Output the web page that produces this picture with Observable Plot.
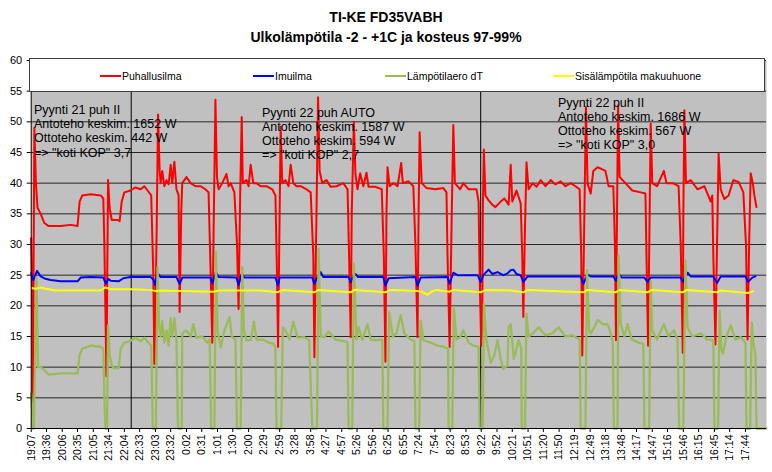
<!DOCTYPE html>
<html><head><meta charset="utf-8">
<script src="https://cdn.jsdelivr.net/npm/d3@7"></script>
<script src="https://cdn.jsdelivr.net/npm/@observablehq/plot@0.6"></script>
<style>
body{margin:0;background:#fff;font-family:"Liberation Sans",Arial,sans-serif;color:#000;}
#wrap{position:relative;width:772px;height:472px;overflow:hidden;}
#title{height:47px;box-sizing:border-box;padding-top:7px;text-align:center;font-weight:bold;font-size:14px;line-height:20px;}
#legend{position:absolute;left:29px;top:58px;width:736px;height:34px;background:#fff;border:1px solid #404040;box-sizing:border-box;}
.li{position:absolute;top:10px;font-size:10.5px;line-height:14px;white-space:nowrap;}
.li span{display:inline-block;width:21px;height:2px;vertical-align:middle;margin-right:1px;position:relative;top:-1px;}
.note{position:absolute;font-size:12.5px;line-height:14.2px;white-space:nowrap;}
</style></head>
<body>
<div id="wrap">
  <div id="title">TI-KE FD35VABH<br>Ulkolämpötila -2 - +1C ja kosteus 97-99%</div>
  <div id="chart"></div>
</div>
<script>
// Time is minutes after 19:07 (start of the log)
const tickLabels = ["19:07","19:36","20:06","20:35","21:05","21:34","22:04","22:33","23:03","23:32","0:02","0:31","1:01","1:30","2:00","2:29","2:59","3:28","3:58","4:27","4:57","5:26","5:56","6:25","6:55","7:24","7:54","8:23","8:53","9:22","9:52","10:21","10:51","11:20","11:50","12:19","12:49","13:18","13:48","14:17","14:47","15:16","15:46","16:15","16:45","17:14","17:44"];
const yTicks = [0,5,10,15,20,25,30,35,40,45,50,55,60];
const xEnd = 1397;
const phaseBoundaries = [190, 854];

const seriesNames = ["Puhallusilma","Imuilma","Lämpötilaero dT","Sisälämpötila makuuhuone"];
const seriesColors = ["#ff0000","#0000ff","#9bbb59","#ffff00"];

const notes = [
  ["Pyynti 21 puh II","Antoteho keskim. 1652 W","Ottoteho keskim. 442 W","=> \"koti KOP\" 3,7"],
  ["Pyynti 22 puh AUTO","Antoteho keskim. 1587 W","Ottoteho keskim. 594 W","=> \"koti KOP\" 2,7"],
  ["Pyynti 22 puh II","Antoteho keskim. 1686 W","Ottoteho keskim. 567 W","=> \"koti KOP\" 3,0"]
];

const puhallusilma = [[0,31],[2,20],[3,2],[6,49],[9,40],[12,36],[18,35],[25,33.5],[33,33],[56,33],[75,33.2],[88,33],[92,37],[97,38],[113,38.2],[132,38],[137,37.5],[139,30],[143,8.5],[146,40.5],[149,36],[153,34],[164,34],[168,33.8],[172,37],[177,38.5],[189,38.8],[198,39.3],[208,39],[215,39.5],[223,38.6],[228,38],[232,25],[234,10.5],[238,30],[241,51.2],[244,42],[246,40],[249,42],[253,39.5],[257,40.5],[261,39.8],[265,43],[268,40],[272,43.5],[276,39],[280,38],[282,19],[285,35],[287,40],[295,41],[303,40],[312,39.5],[322,39.5],[331,39],[337,38.5],[341,25],[344,14],[347,35],[350,53.6],[353,41],[356,39],[363,40],[371,41.5],[375,39.5],[379,40],[386,38.5],[391,30],[394,19.5],[397,38],[400,50.8],[402,40],[409,40.5],[413,39.5],[417,43],[422,40],[428,40],[436,39.5],[447,39.5],[458,39],[464,38],[467,25],[469,13.3],[472,35],[474,49.2],[477,40],[483,40.5],[489,39.5],[493,43],[498,40],[504,39.5],[512,39.5],[523,39],[531,38.5],[536,28],[538,11.6],[542,35],[545,54],[548,42],[553,40],[561,40.5],[569,39.4],[580,39.5],[593,40],[601,39],[604,28],[607,14.9],[609,35],[613,50],[616,41.5],[620,39],[625,41.6],[631,39.5],[637,41.7],[641,39.4],[654,39.4],[666,39],[670,28],[673,10.9],[675,35],[677,42.6],[681,39.5],[688,40],[696,39.5],[703,43.3],[706,40],[717,40.3],[726,39.5],[730,30],[734,14.9],[736,35],[738,48.3],[742,40],[751,39.2],[768,39],[783,39.2],[789,38.5],[791,28],[795,13.3],[799,35],[802,49.5],[805,40],[815,39],[821,40],[831,39],[846,39],[850,37],[852,25],[855,13.5],[857,17],[858,35],[860,45.5],[863,38],[869,37.2],[876,36.5],[882,36.1],[892,37],[899,37.5],[907,36.5],[911,43],[914,37],[922,38.8],[930,36.7],[933,28],[935,18.2],[938,32],[941,43.4],[945,39],[953,40],[960,39.4],[968,40.5],[977,39.5],[987,40.5],[996,39.8],[1006,40.3],[1015,39.5],[1025,40],[1034,39.5],[1042,39],[1045,28],[1047,11.9],[1051,35],[1054,52.4],[1057,40],[1063,38.3],[1068,42],[1076,42.6],[1084,42.3],[1091,42],[1097,39.5],[1106,39.5],[1109,30],[1111,14.4],[1113,35],[1115,52.7],[1118,41],[1129,40],[1142,38.8],[1158,38.5],[1167,38.3],[1169,28],[1172,13.5],[1175,35],[1177,49.7],[1180,40],[1189,39.5],[1202,42],[1207,40],[1219,40],[1230,39.5],[1234,30],[1238,12.3],[1239,35],[1241,51.9],[1244,40],[1253,40.5],[1266,39],[1279,39.5],[1291,37],[1294,38],[1296,28],[1300,13.7],[1303,30],[1306,44.8],[1310,39],[1317,37.4],[1325,38],[1334,40.5],[1344,40.2],[1353,38.5],[1358,30],[1361,14.5],[1364,30],[1367,41.6],[1371,40],[1374,38],[1378,36.1]];

const imuilma = [[0,25.3],[4,24.2],[8,25],[11,25.7],[18,24.8],[27,24.4],[37,24.2],[56,24.0],[88,24.0],[94,24.6],[113,24.7],[137,24.6],[142,23.6],[146,24.4],[151,24.1],[166,24.0],[175,24.5],[189,24.7],[227,24.7],[232,24.3],[235,23.4],[240,25.3],[246,24.7],[276,24.7],[282,23.6],[287,24.6],[341,24.6],[344,23.6],[351,25.5],[356,24.7],[390,24.6],[394,23.4],[400,25.2],[405,24.6],[464,24.6],[469,23.3],[472,24.6],[534,24.6],[538,23.6],[542,24.4],[550,25.5],[555,24.7],[603,24.7],[607,23.8],[610,24.5],[616,25.2],[621,24.7],[669,24.7],[673,23.3],[679,24.5],[730,24.7],[734,23.3],[740,24.6],[791,24.7],[795,23.6],[802,25.4],[810,25],[848,25],[854,23.9],[859,25.0],[869,25.9],[876,25.2],[886,25.5],[897,25],[905,25.3],[911,25.8],[916,25.9],[922,25.2],[930,25.0],[935,23.9],[943,24.8],[1044,24.8],[1049,23.6],[1057,25.1],[1063,24.8],[1106,24.8],[1111,24.1],[1116,25.2],[1122,24.6],[1165,24.6],[1171,23.9],[1177,24.6],[1234,24.6],[1238,23.9],[1247,25.4],[1253,24.8],[1296,24.8],[1303,23.7],[1310,24.8],[1357,24.8],[1362,23.9],[1370,24.6],[1376,24.8]];

const lampotilaero = [[0,5.7],[2,3],[3,0],[5,0],[10,24.7],[13,10],[18,10],[25,9.5],[33,8.8],[56,9],[75,9],[88,9],[92,12],[97,13],[113,13.5],[132,13.3],[137,13],[139,5],[141,0],[144,0],[146,16.8],[149,12],[153,10.3],[157,9.8],[166,9.8],[170,13],[177,14],[189,14.3],[198,14.8],[208,14.2],[215,14.8],[223,14],[228,13.5],[231,0],[237,0],[240,26.3],[243,17],[246,15],[249,17.5],[253,14],[257,16],[261,13.5],[265,18],[268,15],[272,18],[276,14.5],[279,0],[286,0],[287,15.5],[295,16],[303,15],[308,17],[314,14.8],[325,15],[335,14],[339,14.5],[342,0],[348,0],[351,28.8],[354,16],[360,13.2],[367,16],[377,18.2],[381,15],[388,14.5],[391,0],[398,0],[401,26.3],[404,16],[409,14.4],[417,14.4],[423,17.4],[428,14.5],[440,14.5],[451,14],[461,13.8],[464,13],[466,0],[475,0],[478,16.5],[483,16],[491,14.5],[498,17.4],[506,14.8],[518,14.9],[528,14.4],[534,0],[543,0],[546,29.3],[550,15],[557,14.9],[565,15.8],[578,14.5],[591,14.3],[601,14.1],[603,0],[610,0],[613,26.9],[618,14.5],[622,16.5],[629,14.5],[639,17],[645,14.5],[656,14.4],[667,14.5],[669,0],[677,0],[680,19],[687,15],[694,15.5],[702,18.5],[709,15.5],[721,14.5],[728,14.3],[730,0],[737,0],[740,17.6],[745,14.4],[759,14],[772,13.5],[785,13.3],[792,13],[793,0],[800,0],[803,19.8],[808,14.5],[815,14.9],[821,16],[831,14],[840,13.5],[850,13.3],[852,0],[858,0],[860,20.3],[865,14.4],[873,10.7],[880,12],[886,14.4],[892,11.3],[897,9.7],[905,10.3],[907,16.5],[911,17],[917,11.3],[922,13],[926,14.4],[931,13],[932,0],[938,0],[941,18.7],[945,15],[953,15.5],[964,16.5],[977,15.2],[990,15.5],[1002,16.5],[1015,15],[1028,15.2],[1042,14.5],[1044,0],[1053,0],[1056,25.8],[1060,16],[1063,15.5],[1070,16.5],[1076,17.7],[1086,17],[1095,17],[1101,15.5],[1105,14],[1107,0],[1114,0],[1116,28.2],[1120,17],[1127,15],[1133,17],[1141,14.5],[1154,14],[1163,13.8],[1165,0],[1174,0],[1177,24.1],[1180,16],[1189,14.5],[1202,17],[1211,15],[1221,16],[1228,14.5],[1231,0],[1239,0],[1243,27.4],[1247,16.5],[1256,15],[1272,15.5],[1285,14.5],[1296,14.4],[1298,0],[1305,0],[1308,19.2],[1311,13],[1314,12.2],[1321,15],[1329,16.8],[1338,14.5],[1348,14.9],[1357,14],[1359,0],[1366,0],[1369,17.3],[1372,14],[1376,12],[1378,0],[1397,0]];

const sisalampotila = [[0,22.9],[8,22.8],[18,23.0],[27,22.8],[46,22.5],[132,22.5],[141,23.0],[151,22.7],[189,22.7],[227,22.6],[236,22.4],[246,22.5],[346,22.3],[356,22.5],[436,22.5],[468,22.2],[477,22.6],[538,22.2],[546,22.6],[607,22.2],[614,22.6],[673,22.2],[683,22.6],[734,22.4],[745,22.2],[753,21.8],[760,22.3],[770,22.6],[795,22.3],[802,22.6],[854,22.2],[863,22.6],[911,22.5],[935,22.2],[943,22.6],[1049,22.2],[1057,22.6],[1110,22.2],[1118,22.6],[1171,22.2],[1179,22.6],[1238,22.2],[1245,22.6],[1303,22.2],[1310,22.5],[1362,22.1],[1372,22.4]];

const allSeries = [puhallusilma, imuilma, lampotilaero, sisalampotila];
const seriesWidths = [2, 2, 2.3, 2];

const startMin = 19*60 + 7;
const toMinutes = s => { const [h, m] = s.split(":").map(Number); return ((h*60 + m) - startMin + 1440) % 1440; };
const tickMinutes = tickLabels.map(toMinutes);
const labelOf = new Map(tickMinutes.map((t, i) => [t, tickLabels[i]]));

const chart = Plot.plot({
  width: 772, height: 425,
  marginTop: 13, marginBottom: 44, marginLeft: 30.7, marginRight: 6,
  x: {domain: [0, xEnd]},
  y: {domain: [0, 60]},
  style: {fontFamily: "'Liberation Sans', Arial, sans-serif", color: "#000", background: "transparent", overflow: "visible"},
  marks: [
    Plot.frame({fill: "#c0c0c0", stroke: null}),
    Plot.gridY({ticks: yTicks, stroke: "#262626", strokeOpacity: 1, strokeWidth: 1}),
    Plot.ruleX(phaseBoundaries, {stroke: "#000", strokeWidth: 1}),
    ...allSeries.map((s, i) => Plot.line(s, {x: d => d[0], y: d => d[1], stroke: seriesColors[i], strokeWidth: seriesWidths[i], strokeLinejoin: "round"})),
    Plot.ruleX([0], {stroke: "#000"}),
    Plot.ruleY([0], {stroke: "#000"}),
    Plot.axisY({ticks: yTicks, tickSize: 4, tickPadding: 5, fontSize: 11, stroke: "#000"}),
    Plot.axisX({ticks: tickMinutes, tickFormat: d => labelOf.get(d), tickRotate: -90, tickSize: 4, tickPadding: 2, fontSize: 10.5, stroke: "#000"})
  ]
});
document.getElementById("chart").appendChild(chart);

const wrap = document.getElementById("wrap");
// legend
const legend = document.createElement("div");
legend.id = "legend";
const legendLeft = [70, 223, 355, 523];
seriesNames.forEach((name, i) => {
  const it = document.createElement("div");
  it.className = "li";
  it.style.left = legendLeft[i] + "px";
  it.innerHTML = `<span style="background:${seriesColors[i]}"></span>${name}`;
  legend.appendChild(it);
});
wrap.appendChild(legend);

// annotation boxes
const notePos = [[34, 103], [262, 105.5], [558, 95.5]];
notes.forEach((lines, i) => {
  const d = document.createElement("div");
  d.className = "note";
  d.style.left = notePos[i][0] + "px";
  d.style.top = notePos[i][1] + "px";
  d.innerHTML = lines.map(l => l.replace(/&/g,"&amp;").replace(/</g,"&lt;").replace(/>/g,"&gt;")).join("<br>");
  wrap.appendChild(d);
});
</script>
</body></html>
